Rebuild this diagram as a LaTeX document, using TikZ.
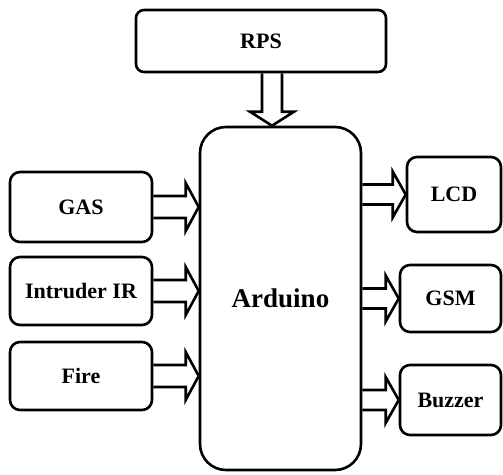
\documentclass[tikz,border=0pt]{standalone}
\usepackage{fontspec}
\setmainfont{Liberation Serif}
\usetikzlibrary{calc}

\begin{document}
\begin{tikzpicture}[x=1pt,y=-1pt,
	blk/.style={draw,line width=2.6pt,rounded corners=10pt,inner sep=0pt,
		font=\fontsize{22}{26}\selectfont\bfseries},
	barrow/.style={line width=2.6pt,line join=miter}]
	\useasboundingbox (0,0) rectangle (503,474);
	% power supply and controller
	\node[blk,minimum width=250pt,minimum height=62pt,rounded corners=8pt] (rps) at (261,41) {RPS};
	\node[blk,minimum width=161pt,minimum height=343pt,rounded corners=26pt,
		font=\fontsize{27}{32}\selectfont\bfseries] (ard) at (280.5,298.5) {Arduino};
	% sensors
	\node[blk,minimum width=142pt,minimum height=70pt] (gas) at (81,207) {GAS};
	\node[blk,minimum width=142pt,minimum height=68pt] (intr) at (81,291) {Intruder IR};
	\node[blk,minimum width=142pt,minimum height=68pt] (fire) at (81,376) {Fire};
	% outputs
	\node[blk,minimum width=94pt,minimum height=75pt] (lcd) at (454,194.5) {LCD};
	\node[blk,minimum width=101pt,minimum height=67pt] (gsm) at (450.5,298.5) {GSM};
	\node[blk,minimum width=101pt,minimum height=70pt] (buzz) at (450.5,400) {Buzzer};
	
	% block arrows
	\draw[barrow] let \p1=($(rps.south)+(11,0)$), \p2=(ard.north) in
		(\x1-10,\y1) -- (\x1-10,\y2+14) -- (\x1-22,\y2+14) -- (\x1,\y2)
		-- (\x1+22,\y2+14) -- (\x1+10,\y2+14) -- (\x1+10,\y1);
	\foreach \s in {gas,intr,fire}
		\draw[barrow] let \p1=(\s.east), \p2=(ard.west) in
			(\x1,\y1+11) -- (\x2-13,\y1+11) -- (\x2-13,\y1+24) -- (\x2,\y1)
			-- (\x2-13,\y1-24) -- (\x2-13,\y1-11) -- (\x1,\y1-11);
	\foreach \s in {lcd,gsm,buzz}
		\draw[barrow] let \p1=(ard.east), \p2=(\s.west) in
			(\x1,\y2+10) -- (\x2-13,\y2+10) -- (\x2-13,\y2+23) -- (\x2,\y2)
			-- (\x2-13,\y2-23) -- (\x2-13,\y2-10) -- (\x1,\y2-10);
\end{tikzpicture}
\end{document}
